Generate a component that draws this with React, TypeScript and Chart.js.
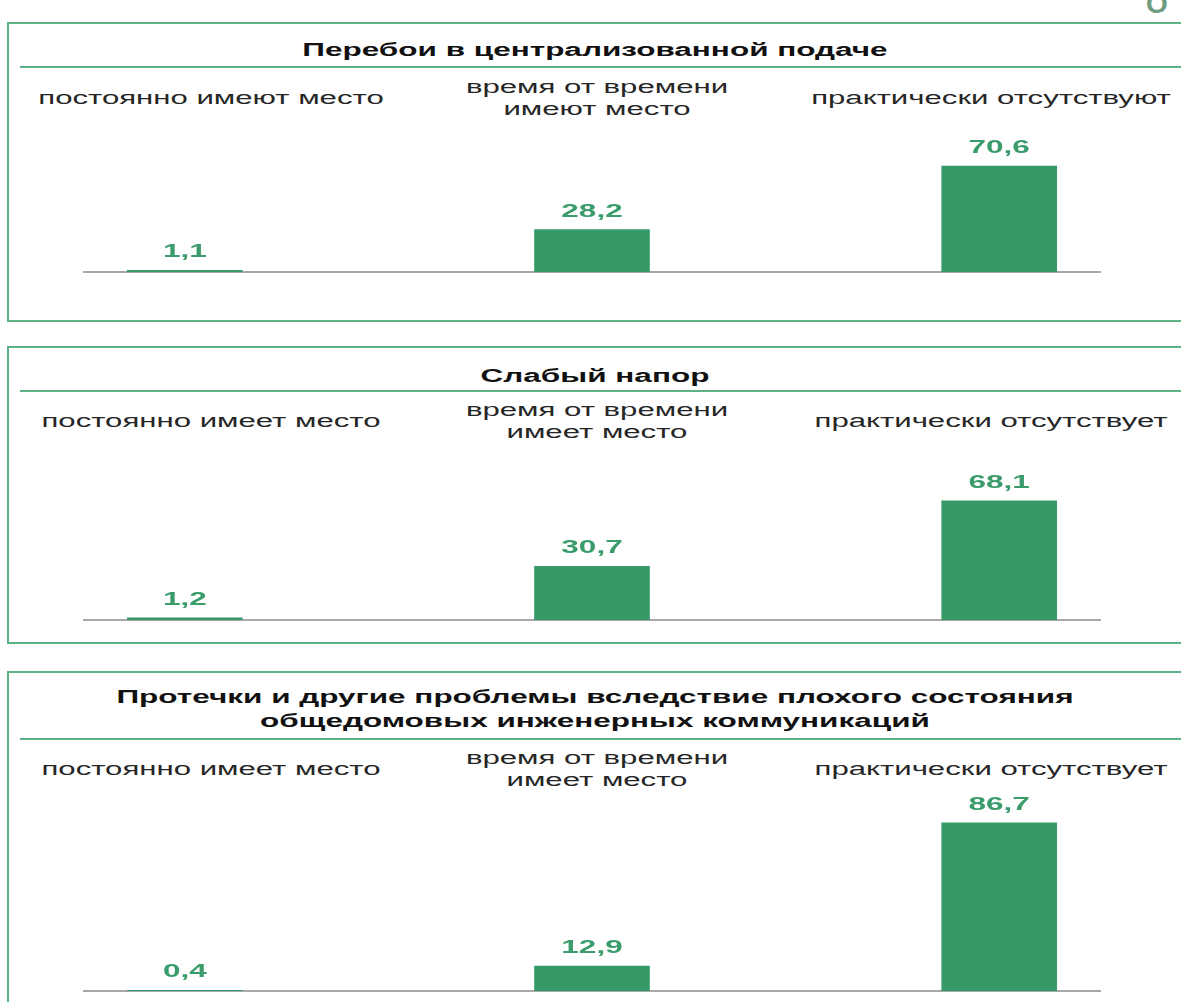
import React, { useEffect, useRef } from "react";
import { Chart, registerables } from "chart.js";

Chart.register(...registerables);

// ---- DATA ----
const titles1 = ["Перебои в централизованной подаче"];
const categories1 = [["постоянно имеют место"], ["время от времени", "имеют место"], ["практически отсутствуют"]];
const values1 = [1.1, 28.2, 70.6];

const titles2 = ["Слабый напор"];
const categories2 = [["постоянно имеет место"], ["время от времени", "имеет место"], ["практически отсутствует"]];
const values2 = [1.2, 30.7, 68.1];

const titles3 = [
  "Протечки и другие проблемы вследствие плохого состояния",
  "общедомовых инженерных коммуникаций",
];
const categories3 = [["постоянно имеет место"], ["время от времени", "имеет место"], ["практически отсутствует"]];
const values3 = [0.4, 12.9, 86.7];

// ---- STYLE ----
const GREEN_LINE = "#5cb284";
const BAR_COLOR = "#359968";
const LABEL_GREEN = "#3a9b6b";
const FONT = "'Liberation Sans', Arial, sans-serif";
const SX_TITLE = 1.75;
const SX_CAT = 1.73;
const SX_NUM = 1.75;

const labelCenters = [211, 597, 991];

type PanelProps = {
  top: number;
  bottom: number;
  lineY: number;
  titles: string[];
  titleY: number;
  categories: string[][];
  catY: number;
  values: number[];
  chartTop: number;
  baseline: number;
  pxPerUnit: number;
};

const valueLabelPlugin = {
  id: "valueLabels",
  afterDatasetsDraw(chart: any) {
    const ctx = chart.ctx;
    const meta = chart.getDatasetMeta(0);
    const data = chart.data.datasets[0].data as any[];
    ctx.save();
    ctx.fillStyle = LABEL_GREEN;
    ctx.font = `bold 18px ${FONT}`;
    ctx.textAlign = "center";
    ctx.textBaseline = "middle";
    meta.data.forEach((el: any, i: number) => {
      const v = data[i].y as number;
      const txt = v.toFixed(1).replace(".", ",");
      ctx.save();
      ctx.translate(el.x, el.y - 18);
      ctx.scale(SX_NUM, 1);
      ctx.fillText(txt, 0, 0);
      ctx.restore();
    });
    ctx.restore();
  },
};

const baselinePlugin = {
  id: "baseline",
  beforeDatasetsDraw(chart: any) {
    const ctx = chart.ctx;
    const y = chart.scales.y.getPixelForValue(0);
    ctx.save();
    ctx.strokeStyle = "#a8a8a8";
    ctx.lineWidth = 2;
    ctx.beginPath();
    ctx.moveTo(chart.chartArea.left, y);
    ctx.lineTo(chart.chartArea.right, y);
    ctx.stroke();
    ctx.restore();
  },
};

function Panel(p: PanelProps) {
  const ref = useRef<HTMLCanvasElement>(null);
  const canvasTop = p.lineY + 2;
  const canvasH = Math.min(p.bottom, 1002) - canvasTop;

  useEffect(() => {
    if (!ref.current) return;
    const ymax = (p.baseline - p.chartTop) / p.pxPerUnit;
    const chart = new Chart(ref.current, {
      type: "bar",
      data: {
        datasets: [
          {
            data: p.values.map((v, i) => ({ x: i, y: v })),
            backgroundColor: BAR_COLOR,
            barThickness: 115,
            borderWidth: 0,
          },
        ],
      },
      options: {
        animation: false,
        responsive: false,
        maintainAspectRatio: false,
        layout: {
          padding: {
            left: 83,
            right: 1181 - 1101,
            top: p.chartTop - canvasTop,
            bottom: canvasTop + canvasH - p.baseline,
          },
        },
        plugins: { legend: { display: false }, tooltip: { enabled: false } },
        scales: {
          x: {
            type: "linear",
            min: -0.25,
            max: 2.25,
            offset: false,
            display: false,
            grid: { display: false, offset: false },
            afterBuildTicks: (s: any) => {
              s.ticks = p.values.map((_, i) => ({ value: i }));
            },
          },
          y: {
            min: 0,
            max: ymax,
            display: false,
            grid: { display: false },
          },
        },
      } as any,
      plugins: [baselinePlugin, valueLabelPlugin],
    });
    return () => chart.destroy();
  }, []);

  const textLine = (
    text: string,
    cx: number,
    cy: number,
    size: number,
    bold: boolean,
    color: string,
    sx: number,
    key: string
  ) => (
    <div
      key={key}
      style={{
        position: "absolute",
        left: cx,
        top: cy - 12,
        height: 24,
        lineHeight: "24px",
        whiteSpace: "nowrap",
        fontFamily: FONT,
        fontSize: size,
        fontWeight: bold ? "bold" : "normal",
        color,
        transform: `translateX(-50%) scaleX(${sx})`,
        transformOrigin: "center",
      }}
    >
      {text}
    </div>
  );

  return (
    <>
      <div
        style={{
          position: "absolute",
          left: 7,
          top: p.top,
          width: 1300,
          height: p.bottom - p.top,
          border: `2px solid ${GREEN_LINE}`,
          boxSizing: "border-box",
        }}
      />
      <div
        style={{
          position: "absolute",
          left: 20,
          top: p.lineY,
          width: 1300,
          height: 2,
          background: GREEN_LINE,
        }}
      />
      {p.titles.map((t, i) =>
        textLine(t, 595, p.titleY + i * 24, 18, true, "#111", SX_TITLE, "t" + i)
      )}
      {p.categories.map((lines, ci) =>
        lines.map((l, li) =>
          textLine(
            l,
            labelCenters[ci],
            lines.length === 1 ? p.catY : p.catY - 11 + li * 22,
            18,
            false,
            "#262626",
            SX_CAT,
            `c${ci}_${li}`
          )
        )
      )}
      <canvas
        ref={ref}
        width={1181}
        height={canvasH}
        style={{ position: "absolute", left: 0, top: canvasTop, width: 1181, height: canvasH }}
      />
    </>
  );
}

export default function App() {
  useEffect(() => {
    document.body.style.overflow = "hidden";
  }, []);
  return (
    <div
      style={{
        position: "absolute",
        left: 0,
        top: 0,
        width: 1181,
        height: 1002,
        overflow: "hidden",
        background: "#fff",
      }}
    >
      <div
        style={{
          position: "absolute",
          left: 1146,
          top: -10,
          fontFamily: FONT,
          fontWeight: "bold",
          fontSize: 28,
          color: "#6f9c80",
          lineHeight: "28px",
        }}
      >
        О
      </div>
      <Panel
        top={22}
        bottom={322}
        lineY={66}
        titles={titles1}
        titleY={50}
        categories={categories1}
        catY={98}
        values={values1}
        chartTop={272 - 150}
        baseline={272}
        pxPerUnit={1.5}
      />
      <Panel
        top={346}
        bottom={644}
        lineY={390}
        titles={titles2}
        titleY={376}
        categories={categories2}
        catY={421}
        values={values2}
        chartTop={620 - 175}
        baseline={620}
        pxPerUnit={1.75}
      />
      <Panel
        top={671}
        bottom={1100}
        lineY={738}
        titles={titles3}
        titleY={697}
        categories={categories3}
        catY={769}
        values={values3}
        chartTop={991 - 194}
        baseline={991}
        pxPerUnit={1.94}
      />
    </div>
  );
}
